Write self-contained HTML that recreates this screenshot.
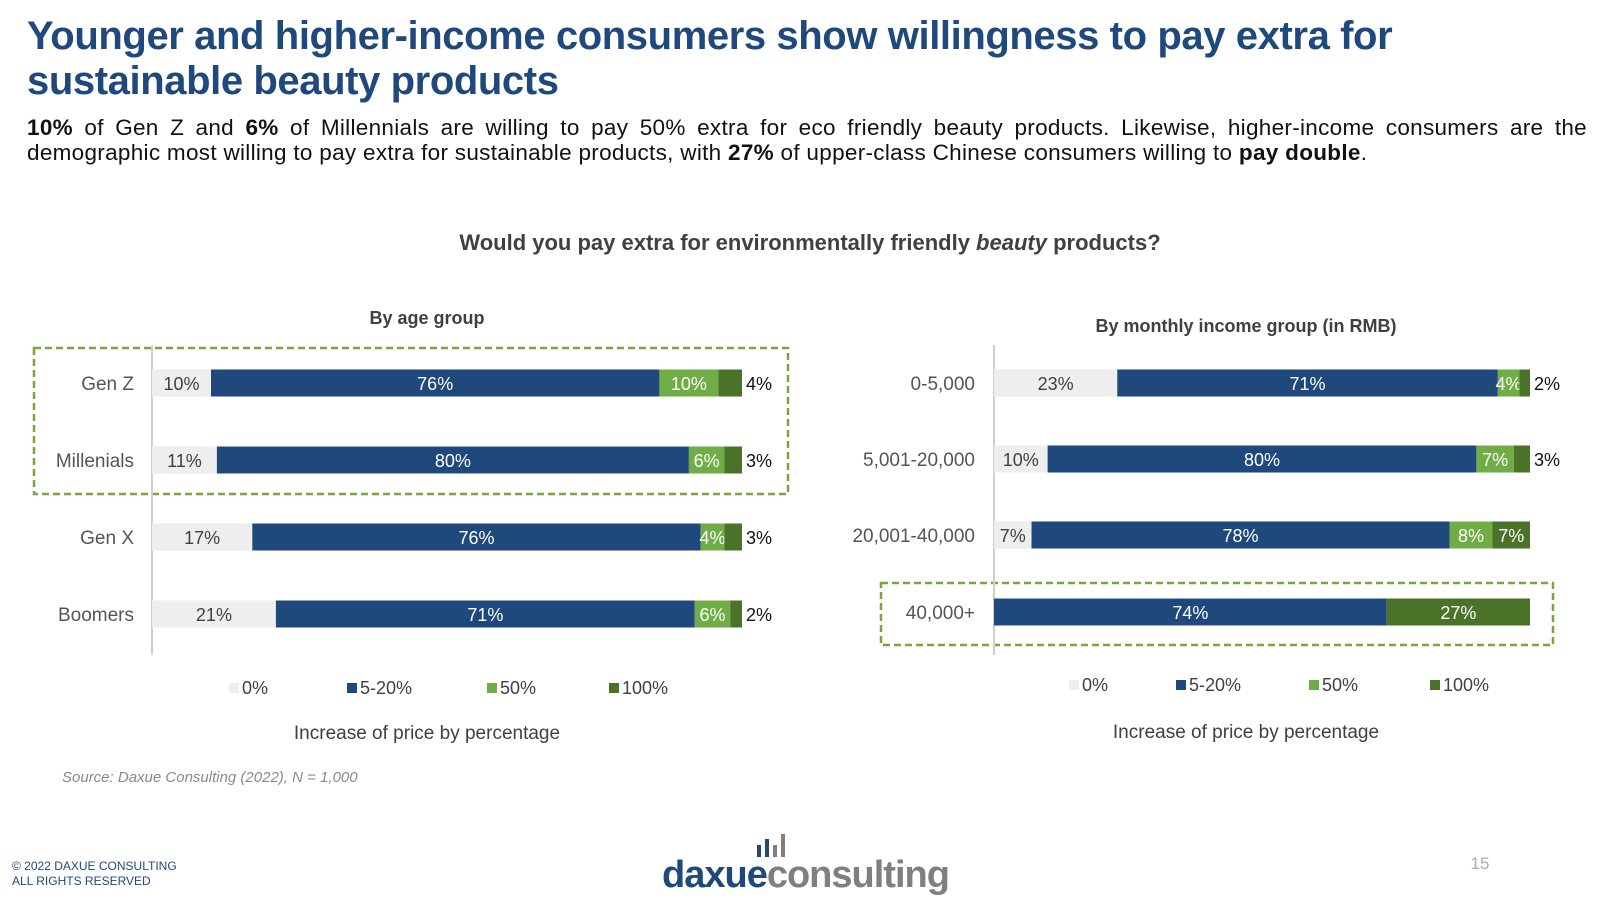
<!DOCTYPE html>
<html><head><meta charset="utf-8">
<style>
body{margin:0;width:1607px;height:900px;background:#fff;font-family:"Liberation Sans",sans-serif;overflow:hidden;position:relative}
.t{position:absolute;left:27px;top:14px;width:1560px;font-size:40px;font-weight:bold;color:#1f497d;line-height:45px;letter-spacing:-0.4px}
.s{position:absolute;left:27px;top:115px;width:1560px;font-size:22.5px;line-height:25px;color:#111;text-align:justify;text-align-last:left;letter-spacing:0.3px}
svg{position:absolute;left:0;top:0}
</style></head><body>
<div class="t">Younger and higher-income consumers show willingness to pay extra for sustainable beauty products</div>
<div class="s"><b>10%</b> of Gen Z and <b>6%</b> of Millennials are willing to pay 50% extra for eco friendly beauty products. Likewise, higher-income consumers are the demographic most willing to pay extra for sustainable products, with <b>27%</b> of upper-class Chinese consumers willing to <b>pay double</b>.</div>
<svg id="c" width="1607" height="900" font-family="Liberation Sans, sans-serif">
<text x="810" y="250" text-anchor="middle" font-size="22" font-weight="bold" fill="#404040">Would you pay extra for environmentally friendly <tspan font-style="italic">beauty</tspan> products?</text>
<text x="427" y="324" text-anchor="middle" font-size="18" font-weight="bold" fill="#404040">By age group</text>
<text x="1246" y="332" text-anchor="middle" font-size="18" font-weight="bold" fill="#404040">By monthly income group (in RMB)</text>
<rect x="34" y="348" width="754" height="146" fill="none" stroke="#7aa43e" stroke-width="2.5" stroke-dasharray="7,4"/>
<rect x="881" y="583" width="672" height="62" fill="none" stroke="#7aa43e" stroke-width="2.5" stroke-dasharray="7,4"/>
<text x="427" y="739" text-anchor="middle" font-size="19" fill="#404040">Increase of price by percentage</text>
<text x="1246" y="738" text-anchor="middle" font-size="19" fill="#404040">Increase of price by percentage</text>
<text x="62" y="782" font-size="15" font-style="italic" fill="#8a8a8a">Source: Daxue Consulting (2022), N = 1,000</text>
<text x="12" y="870" font-size="12" fill="#1f497d">© 2022 DAXUE CONSULTING</text>
<text x="12" y="885" font-size="12" fill="#1f497d">ALL RIGHTS RESERVED</text>
<g>
<rect x="757" y="845" width="4" height="12" fill="#1f497d"/><rect x="765" y="839" width="4" height="18" fill="#1f497d"/><rect x="773" y="845" width="4" height="12" fill="#7f7f7f"/><rect x="781" y="834" width="4" height="23" fill="#7f7f7f"/>
<text x="662" y="887" font-size="38" font-weight="bold" fill="#1f497d" letter-spacing="-1">daxue<tspan fill="#7f7f7f">consulting</tspan></text>
</g>
<text x="1480" y="869" text-anchor="middle" font-size="17" fill="#aaa">15</text>
</svg>
<script>
const ageCats=["Gen Z","Millenials","Gen X","Boomers"];
const age0=[10,11,17,21];
const age5=[76,80,76,71];
const age50=[10,6,4,6];
const age100=[4,3,3,2];
const incCats=["0-5,000","5,001-20,000","20,001-40,000","40,000+"];
const inc0=[23,10,7,0];
const inc5=[71,80,78,74];
const inc50=[4,7,8,0];
const inc100=[2,3,7,27];
const legendLabels=["0%","5-20%","50%","100%"];
const colors=["#eeeeee","#1f497d","#70ad47","#4a7228"];
const txtCol=["#404040","#fff","#fff","#fff"];
const NS="http://www.w3.org/2000/svg";
const svg=document.getElementById('c');
function el(t,a,txt){const e=document.createElementNS(NS,t);for(const k in a)e.setAttribute(k,a[k]);if(txt!=null)e.textContent=txt;svg.appendChild(e);return e;}
function chart(id,cats,series,x0,x1,rowsY,labelX,legX,legY,outsideIdx){
  const ax=el('line',{x1:x0,x2:x0,y1:345,y2:655,stroke:'#d0d0d0','stroke-width':2});
  
  
  cats.forEach((c,i)=>{
    const y=rowsY[i];
    const tot=series.reduce((s,a)=>s+a[i],0);
    const sx=v=>x0+(x1-x0)*v/tot;
    const lab=el('text',{x:labelX,y:y+7,'text-anchor':'end','font-size':19,fill:'#555'},c);
    
    
    let acc=0;
    series.forEach((s,k)=>{
      const v=s[i];
      if(v<=0){return;}
      const xa=sx(acc),xb=sx(acc+v);
      const r=el('rect',{x:xa,y:y-13.5,width:xb-xa,height:27,fill:colors[k]});
      
      
      const outside=(k===3&&v<=outsideIdx);
      const tx=outside?xb+4:(xa+xb)/2;
      const t=el('text',{x:tx,y:y+7,'text-anchor':outside?'start':'middle','font-size':18,fill:outside?'#111':txtCol[k]},v+'%');
      
      
      acc+=v;
    });
  });
  legendLabels.forEach((l,k)=>{
    const r=el('rect',{x:legX[k]-13,y:legY-11,width:10,height:10,fill:colors[k]});
    
    
    const t=el('text',{x:legX[k],y:legY,'font-size':18,fill:'#404040'},l);
    
    
  });
}
chart('age',ageCats,[age0,age5,age50,age100],152,742,[383,460,537,614],134,[242,360,500,622],694,4);
chart('income',incCats,[inc0,inc5,inc50,inc100],994,1530,[383,459,535,612],975,[1082,1189,1322,1443],691,3);
</script>
</body></html>
